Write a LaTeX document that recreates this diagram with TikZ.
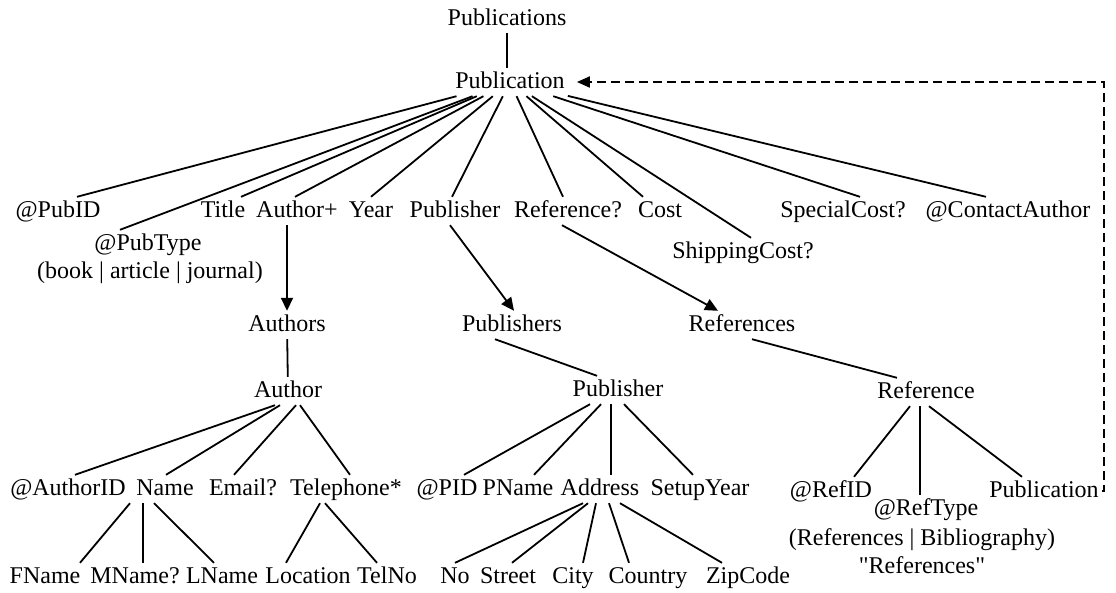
\documentclass[tikz,border=0pt]{standalone}
\usepackage{fontspec}
\setmainfont{Liberation Serif}[Ligatures=TeXOff]
\usetikzlibrary{arrows.meta}

\begin{document}
\begin{tikzpicture}[
    x=1pt, y=-1pt,
    elem/.style={anchor=base, inner sep=3pt, text height=17pt, text depth=5pt,
                 font=\fontsize{24}{28}\selectfont},
    edge/.style={line width=1.8pt},
    arrow/.style={line width=1.8pt, -{Triangle[length=13pt, width=12pt]}},
    backlink/.style={line width=1.8pt, dash pattern=on 9pt off 5pt,
                     -{Triangle[length=13pt, width=11pt]}, shorten >=9pt},
]
\useasboundingbox (0,0) rectangle (1116,592);

\node[elem] (pubs) at (507,25) {Publications};
\node[elem] (pub) at (510,88) {Publication};

\node[elem] (pubid) at (58,217) {@PubID};
\node[elem] (pubtype) at (148,250) {@PubType};
\node[elem] (typevals) at (150,278) {(book | article | journal)};
\node[elem] (title) at (223,217) {Title};
\node[elem] (authplus) at (297,217) {Author+};
\node[elem] (year) at (371,217) {Year};
\node[elem] (publ) at (455,217) {Publisher};
\node[elem] (refq) at (568,217) {Reference?};
\node[elem] (cost) at (660,217) {Cost};
\node[elem] (ship) at (743,258) {ShippingCost?};
\node[elem] (special) at (843,217) {SpecialCost?};
\node[elem] (contact) at (1008,217) {@ContactAuthor};

\node[elem] (authors) at (287,331) {Authors};
\node[elem] (publishers) at (512,331) {Publishers};
\node[elem] (references) at (742,331) {References};

\node[elem] (author) at (288,397) {Author};
\node[elem] (publisher) at (618,396) {Publisher};
\node[elem] (reference) at (926,398) {Reference};

\node[elem] (authorid) at (68,495) {@AuthorID};
\node[elem] (name) at (165,495) {Name};
\node[elem] (email) at (243,495) {Email?};
\node[elem] (tel) at (346,495) {Telephone*};
\node[elem] (pid) at (447,495) {@PID};
\node[elem] (pname) at (518,495) {PName};
\node[elem] (address) at (600,495) {Address};
\node[elem] (setup) at (700,495) {SetupYear};
\node[elem] (refid) at (831,497) {@RefID};
\node[elem] (reftype) at (926,515) {@RefType};
\node[elem] (refvals) at (922,545) {(References | Bibliography)};
\node[elem] (refdefault) at (922,573) {"References"};
\node[elem] (refpub) at (1044,497) {Publication};

\node[elem] (fname) at (45,583) {FName};
\node[elem] (mname) at (135,583) {MName?};
\node[elem] (lname) at (222,583) {LName};
\node[elem] (location) at (308,583) {Location};
\node[elem] (telno) at (387,583) {TelNo};
\node[elem] (no) at (455,583) {No};
\node[elem] (street) at (508,583) {Street};
\node[elem] (city) at (573,583) {City};
\node[elem] (country) at (648,583) {Country};
\node[elem] (zip) at (748,583) {ZipCode};

\draw[edge] (pubs) -- (pubs.south |- pub.north);
\draw[edge] (pub) -- ([xshift=19pt]pubid.north);
\draw[edge] (pub) -- ([xshift=-28pt]pubtype.north);
\draw[edge] (pub) -- ([xshift=18pt]title.north);
\draw[edge] (pub) -- ([xshift=-2pt]authplus.north);
\draw[edge] (pub) -- (year.north);
\draw[edge] (pub) -- ([xshift=-3pt]publ.north);
\draw[edge] (pub) -- ([xshift=-5pt]refq.north);
\draw[edge] (pub) -- ([xshift=-17pt]cost.north);
\draw[edge] (pub) -- ([xshift=8pt]ship.north);
\draw[edge] (pub) -- ([xshift=17pt]special.north);
\draw[edge] (pub) -- ([xshift=-22pt]contact.north);

\draw[arrow] (authplus.south -| authors) -- (authors);
\draw[arrow] ([xshift=-5pt]publ.south) -- ([xshift=2pt]publishers.north);
\draw[arrow] ([xshift=-6pt]refq.south) -- ([xshift=-24pt]references.north);

\draw[edge] (authors) -- (author);
\draw[edge] ([xshift=-17pt]publishers.south) -- ([xshift=-21pt]publisher.north);
\draw[edge] ([xshift=10pt]references.south) -- ([xshift=-29pt]reference.north);

\draw[edge] ([xshift=-13pt]author.south) -- ([xshift=7pt]authorid.north);
\draw[edge] ([xshift=-8pt]author.south) -- ([xshift=1pt]name.north);
\draw[edge] ([xshift=8pt]author.south) -- ([xshift=-9pt]email.north);
\draw[edge] ([xshift=12pt]author.south) -- ([xshift=4pt]tel.north);
\draw[edge] ([xshift=-35pt]name.south) -- ([xshift=35pt]fname.north);
\draw[edge] ([xshift=-22pt]name.south) -- ([xshift=8pt]mname.north);
\draw[edge] ([xshift=-11pt]name.south) -- ([xshift=-8pt]lname.north);
\draw[edge] ([xshift=-26pt]tel.south) -- ([xshift=-22pt]location.north);
\draw[edge] ([xshift=-21pt]tel.south) -- ([xshift=-10pt]telno.north);

\draw[edge] ([xshift=-28pt]publisher.south) -- ([xshift=17pt]pid.north);
\draw[edge] ([xshift=-17pt]publisher.south) -- ([xshift=16pt]pname.north);
\draw[edge] ([xshift=-7pt]publisher.south) -- ([xshift=11pt]address.north);
\draw[edge] ([xshift=6pt]publisher.south) -- ([xshift=-7pt]setup.north);
\draw[edge] ([xshift=-17pt]address.south) -- (no.north);
\draw[edge] ([xshift=-12pt]address.south) -- ([xshift=4pt]street.north);
\draw[edge] ([xshift=-4pt]address.south) -- ([xshift=10pt]city.north);
\draw[edge] ([xshift=9pt]address.south) -- ([xshift=-19pt]country.north);
\draw[edge] ([xshift=20pt]address.south) -- ([xshift=-26pt]zip.north);

\draw[edge] ([xshift=-16pt]reference.south) -- ([xshift=23pt]refid.north);
\draw[edge] ([xshift=-6pt]reference.south) -- ([xshift=-6pt]reftype.north);
\draw[edge] ([xshift=3pt]reference.south) -- ([xshift=-22pt]refpub.north);

\draw[backlink] (refpub.east) -- ++(2.5,0) |- (pub.east);
\end{tikzpicture}
\end{document}
